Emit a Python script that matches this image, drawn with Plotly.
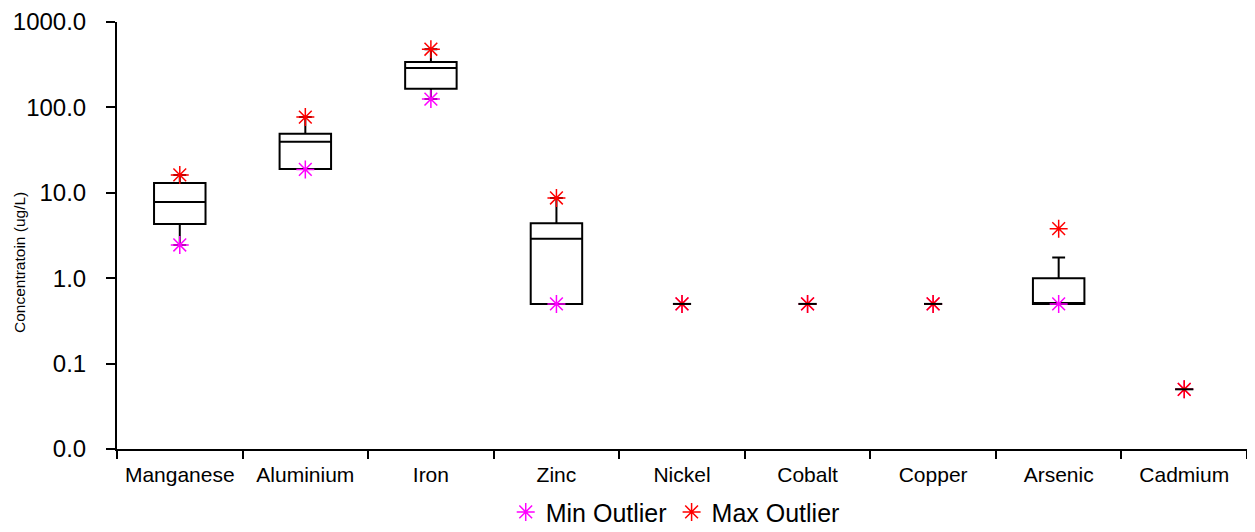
import plotly.graph_objects as go

categories = ["Manganese", "Aluminium", "Iron", "Zinc", "Nickel", "Cobalt", "Copper", "Arsenic", "Cadmium"]

box_cats = ["Manganese", "Aluminium", "Iron", "Zinc", "Arsenic"]
q1 = [4.3, 19.0, 165, 0.5, 0.5]
median = [7.8, 39.5, 290, 2.9, 0.5]
q3 = [13.0, 49.0, 340, 4.4, 1.0]
lowerfence = [2.45, 19.0, 125, 0.5, 0.5]
upperfence = [16.2, 77, 480, 8.7, 1.75]

single_cats = ["Nickel", "Cobalt", "Copper", "Cadmium"]
single_vals = [0.5, 0.5, 0.5, 0.05]

min_outlier = [2.45, 18.8, 125, 0.5, 0.5, 0.5, 0.5, 0.5, 0.05]
max_outlier = [16.2, 77, 480, 8.7, 0.5, 0.5, 0.5, 3.8, 0.05]

ytick_vals = [0.01, 0.1, 1, 10, 100, 1000]
ytick_text = ["0.0", "0.1", "1.0", "10.0", "100.0", "1000.0"]

FONT = "Liberation Sans, Arial, sans-serif"

fig = go.Figure()

fig.add_trace(go.Scatter(
    x=categories, y=min_outlier, mode="markers", name="Min Outlier",
    marker=dict(symbol="asterisk-open", size=15, color="#FF00FF",
                line=dict(color="#FF00FF", width=1.5)),
    hoverinfo="skip",
))
fig.add_trace(go.Scatter(
    x=categories, y=max_outlier, mode="markers", name="Max Outlier",
    marker=dict(symbol="asterisk-open", size=15, color="#FF0000",
                line=dict(color="#FF0000", width=1.5)),
    hoverinfo="skip",
))

fig.add_trace(go.Box(
    x=box_cats, q1=q1, median=median, q3=q3,
    lowerfence=lowerfence, upperfence=upperfence,
    width=0.41, whiskerwidth=0.25,
    line=dict(color="black", width=2), fillcolor="rgba(0,0,0,0)",
    showlegend=False, boxpoints=False, hoverinfo="skip",
))

fig.add_trace(go.Scatter(
    x=single_cats, y=single_vals, mode="markers", showlegend=False,
    marker=dict(symbol="line-ew-open", size=13, color="black",
                line=dict(color="black", width=2)),
    hoverinfo="skip",
))

fig.update_layout(
    width=1247, height=524,
    margin=dict(l=109, r=8, t=14, b=83, autoexpand=False),
    paper_bgcolor="white", plot_bgcolor="white",
    font=dict(family=FONT, color="black"),
    showlegend=True,
    legend=dict(orientation="h", x=0.494, xanchor="center", y=-0.148, yanchor="middle",
                font=dict(size=25, family=FONT), itemwidth=30, tracegroupgap=0,
                bgcolor="rgba(0,0,0,0)"),
    xaxis=dict(
        type="category", categoryorder="array", categoryarray=categories,
        showline=True, linecolor="black", linewidth=2,
        ticks="outside", ticklen=8, tickwidth=2, tickcolor="black",
        tickson="boundaries", showgrid=False, zeroline=False, automargin=False,
        tickfont=dict(size=21, family=FONT), range=[-0.5, 8.5],
        ticklabelstandoff=6,
    ),
    yaxis=dict(
        type="log", range=[-2, 3],
        tickvals=ytick_vals, ticktext=ytick_text,
        showline=True, linecolor="black", linewidth=2,
        ticks="outside", ticklen=9, tickwidth=2, tickcolor="black",
        showgrid=False, zeroline=False, automargin=False,
        tickfont=dict(size=24, family=FONT),
        ticklabelstandoff=15, ticklabeloverflow="allow",
    ),
    annotations=[dict(
        text="Concentratoin (ug/L)", textangle=-90,
        xref="paper", yref="paper", x=-0.0858, y=0.4356,
        xanchor="center", yanchor="middle", showarrow=False,
        font=dict(size=15.5, family=FONT),
    )],
)

fig.write_html("out.html")
